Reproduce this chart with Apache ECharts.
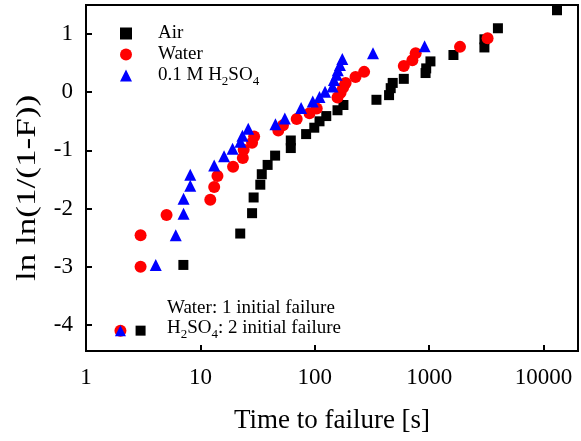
<!DOCTYPE html>
<html>
<head>
<meta charset="utf-8">
<script src="https://cdn.jsdelivr.net/npm/echarts@6/dist/echarts.min.js"></script>
<style>html,body{margin:0;padding:0;background:#fff}#c{width:581px;height:441px}</style>
</head>
<body>
<div id="c"></div>
<script>
// Time to failure [s] vs ln ln(1/(1-F))
var airData = [
  [7.1, -2.97], [22.3, -2.43], [28.3, -2.08], [29.2, -1.81], [33.4, -1.59],
  [34.4, -1.41], [38.7, -1.25], [45, -1.09], [61.7, -0.96], [61.7, -0.83],
  [84, -0.72], [99, -0.61], [110, -0.50], [126, -0.41], [158, -0.31],
  [178, -0.22], [346, -0.13], [446, -0.05], [461, 0.07], [480, 0.16],
  [600, 0.23], [930, 0.33], [942, 0.41], [1026, 0.53], [1630, 0.64],
  [3040, 0.77], [3040, 0.91], [3990, 1.10], [13100, 1.41]
];
var waterData = [
  [3.0, -3.0], [3.0, -2.46], [5.06, -2.11], [12.2, -1.85], [13.2, -1.63],
  [14.1, -1.44], [19.3, -1.28], [23.5, -1.13], [23.9, -0.99], [28.3, -0.87],
  [29.5, -0.76], [48, -0.66], [52.7, -0.57], [69.5, -0.46], [90, -0.36],
  [104, -0.28], [158, -0.09], [168, -0.01], [177, 0.08], [186, 0.16],
  [227, 0.26], [270, 0.35], [600, 0.45], [713, 0.55], [762, 0.67],
  [1860, 0.78], [3240, 0.93]
];
var acidData = [
  [4.07, -2.97], [6.09, -2.46], [7.13, -2.09], [7.13, -1.83], [8.15, -1.61],
  [8.15, -1.42], [13.2, -1.26], [16.1, -1.10], [19.1, -0.97], [22.4, -0.85],
  [23.3, -0.75], [26.2, -0.63], [45.3, -0.55], [54.7, -0.45], [76, -0.27],
  [96, -0.16], [110, -0.08], [123, 0.01], [143, 0.10], [147, 0.21],
  [155, 0.30], [159, 0.38], [166, 0.47], [174, 0.57], [323, 0.67], [912, 0.79]
];
// markers beside the "initial failure" note
var waterInitial = [[2, -4.1]];
var acidInitial = [[2, -4.1]];
var airNoteMarker = [[3, -4.1]];

var seriesNames = ['Air', 'Water', '0.1 M H2SO4'];
var xTickLabels = ['1', '10', '100', '1000', '10000'];
var yTickLabels = ['-4', '-3', '-2', '-1', '0', '1'];
var xTitle = 'Time to failure [s]';
var yTitle = 'ln ln(1/(1-F))';

var FONT = 'Liberation Serif';
var chart = echarts.init(document.getElementById('c'), null, {renderer: 'canvas'});

var subRich = {
  n: {fontFamily: FONT, fontSize: 19, color: '#000', verticalAlign: 'middle'},
  s: {fontFamily: FONT, fontSize: 13, color: '#000', padding: [12, 0, 0, 0], verticalAlign: 'middle'}
};

chart.setOption({
  animation: false,
  backgroundColor: '#fff',
  grid: {left: 86, right: -3, top: 5, bottom: 90, show: true, borderColor: '#000', borderWidth: 2, backgroundColor: 'transparent'},
  legend: {
    data: seriesNames,
    orient: 'vertical',
    left: 120, top: 24, padding: 0,
    itemWidth: 12, itemHeight: 12, itemGap: 2,
    textStyle: {fontFamily: FONT, fontSize: 19, color: '#000', padding: [0, 0, 0, 21], rich: subRich},
    formatter: function (name) {
      if (name === '0.1 M H2SO4') return '{n|0.1 M H}{s|2}{n|SO}{s|4}';
      return '{n|' + name + '}';
    }
  },
  xAxis: {
    type: 'log', logBase: 10, min: 1, max: 20000,
    name: xTitle, nameLocation: 'middle', nameGap: 56,
    nameTextStyle: {fontFamily: FONT, fontSize: 27, color: '#000'},
    axisLine: {show: true, onZero: false, lineStyle: {color: '#000', width: 2}},
    axisTick: {show: true, inside: true, length: 6, lineStyle: {color: '#000', width: 2}},
    minorTick: {show: false},
    splitLine: {show: false},
    axisLabel: {
      fontFamily: FONT, fontSize: 23, color: '#000', margin: 15,
      formatter: function (v) {
        var s = String(Math.round(v));
        return (xTickLabels.indexOf(s) >= 0 && Math.abs(v - Math.round(v)) < 1e-6) ? s : '';
      }
    }
  },
  yAxis: {
    type: 'value', min: -4.45, max: 1.5, splitNumber: 6,
    axisLine: {show: true, onZero: false, lineStyle: {color: '#000', width: 2}},
    axisTick: {show: true, inside: true, length: 6, lineStyle: {color: '#000', width: 2}},
    splitLine: {show: false},
    axisLabel: {
      fontFamily: FONT, fontSize: 23, color: '#000', margin: 13,
      formatter: function (v) {
        var s = String(Math.round(v));
        return (Math.abs(v - Math.round(v)) < 1e-6 && yTickLabels.indexOf(s) >= 0) ? s : '';
      }
    }
  },
  graphic: [
    {type: 'text', x: 28, y: 188, rotation: Math.PI / 2, scaleX: 1.3,
     style: {text: yTitle, fontFamily: FONT, fontSize: 27, fill: '#000', align: 'center', verticalAlign: 'middle'}},
    {type: 'text', left: 167, top: 299, style: {text: 'Water: 1 initial failure', fontFamily: FONT, fontSize: 19, fill: '#000'}},
    {type: 'text', left: 167, top: 319, style: {text: '{n|H}{s|2}{n|SO}{s|4}{n|: 2 initial failure}', rich: subRich, fill: '#000'}}
  ],
  series: [
    {name: 'Air', type: 'scatter', data: airData, symbol: 'rect', symbolSize: 10, itemStyle: {color: '#000', opacity: 1}},
    {name: 'Water', type: 'scatter', data: waterData, symbol: 'circle', symbolSize: 12, itemStyle: {color: '#ff0000', opacity: 1}},
    {name: '0.1 M H2SO4', type: 'scatter', data: acidData, symbol: 'triangle', symbolSize: 12, itemStyle: {color: '#0000ff', opacity: 1}},
    {name: 'water-note', type: 'scatter', data: waterInitial, symbol: 'circle', symbolSize: 12, itemStyle: {color: '#ff0000', opacity: 1}},
    {name: 'acid-note', type: 'scatter', data: acidInitial, symbol: 'triangle', symbolSize: 11, itemStyle: {color: '#0000ff', opacity: 1}},
    {name: 'air-note', type: 'scatter', data: airNoteMarker, symbol: 'rect', symbolSize: 10, itemStyle: {color: '#000', opacity: 1}}
  ]
});
</script>
</body>
</html>
